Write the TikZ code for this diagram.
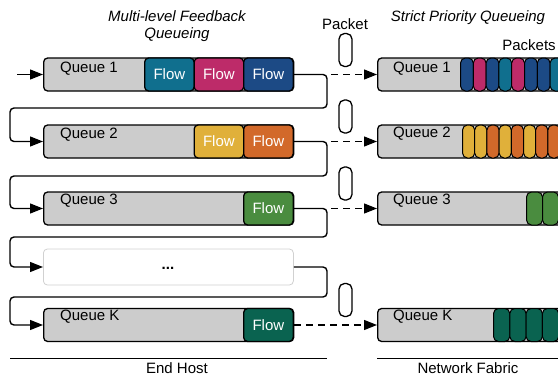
\documentclass[tikz,border=0pt]{standalone}
\usepackage{fontspec}
\setmainfont{Liberation Sans}
\usetikzlibrary{arrows.meta,calc}
\definecolor{cteal}{HTML}{106F8E}
\definecolor{cmag}{HTML}{BD2B69}
\definecolor{cnavy}{HTML}{1C4A85}
\definecolor{cyel}{HTML}{E0B03A}
\definecolor{corg}{HTML}{D2692A}
\definecolor{cgrn}{HTML}{4A8C3F}
\definecolor{cdgrn}{HTML}{0A6350}
\definecolor{qgray}{HTML}{CCCCCC}
\newcommand{\fs}{\fontsize{15}{17}\selectfont}
\begin{document}
\begin{tikzpicture}[x=1pt,y=-1pt,
  qbox/.style={draw=black, line width=1.3pt, fill=qgray, rounded corners=4pt, minimum height=33pt, inner sep=0pt, anchor=west},
  flowbox/.style={draw=black, line width=1.3pt, rounded corners=4pt, minimum height=33pt, minimum width=49.5pt, inner sep=0pt, text=white, font=\fs, anchor=west},
  pkt/.style={draw=black, line width=1pt, rounded corners=5pt, minimum height=33pt, inner sep=0pt, anchor=west},
  pill/.style={draw=black, line width=1.3pt, rounded corners=5.5pt, minimum height=33pt, minimum width=13pt, inner sep=0pt},
  lbl/.style={font=\fs, inner sep=0pt, anchor=base west},
  ttl/.style={font=\fs\itshape, inner sep=0pt, anchor=base},
  txt/.style={font=\fs, inner sep=0pt, anchor=base},
  tipA/.tip={Triangle[length=13pt,width=10pt]},
  fb/.style={draw=black, line width=1.4pt, rounded corners=4pt, -tipA},
  da/.style={draw=black, line width=1.4pt, dash pattern=on 7pt off 5pt, -tipA},
  rule/.style={draw=black, line width=1pt}
]
\useasboundingbox (0,0) rectangle (558,380);
\clip (0,0) rectangle (558,380);

% titles
\node[ttl] (t1) at (177,21) {Multi-level Feedback};
\node[ttl] (t2) at (177,38) {Queueing};
\node[ttl] (t3) at (468,21) {Strict Priority Queueing};
\node[txt] (tp) at (345,29) {Packet};
\node[txt] (tps) at (529,50) {Packets};

% left queues
\node[qbox, minimum width=250pt] (q1) at (43,74.5) {};
\node[flowbox, fill=cteal] (f11) at (144,74.5) {Flow};
\node[flowbox, fill=cmag] (f12) at (193.5,74.5) {Flow};
\node[flowbox, fill=cnavy] (f13) at (243,74.5) {Flow};
\node[lbl] (ql1) at (60,72) {Queue 1};

\node[qbox, minimum width=250pt] (q2) at (43,141.5) {};
\node[flowbox, fill=cyel] (f21) at (193.5,141.5) {Flow};
\node[flowbox, fill=corg] (f22) at (243,141.5) {Flow};
\node[lbl] (ql2) at (60,138) {Queue 2};

\node[qbox, minimum width=250pt] (q3) at (43,208.5) {};
\node[flowbox, fill=cgrn] (f31) at (243,208.5) {Flow};
\node[lbl] (ql3) at (60,204) {Queue 3};

\node[draw=black!18, line width=0.8pt, fill=white, rounded corners=4pt, minimum width=250pt, minimum height=36pt, anchor=west, inner sep=0pt] (qd) at (43,267) {};
\node[font=\fs\bfseries, inner sep=0pt] (dots) at (168,268) {...};

\node[qbox, minimum width=250pt] (qk) at (43,325) {};
\node[flowbox, fill=cdgrn] (fk1) at (243,325) {Flow};
\node[lbl] (qlk) at (60,320.5) {Queue K};

% entry arrow
\coordinate (in) at (17,74.5);
\draw[fb] (in) -- (q1.west);

% feedback loops
\coordinate (r1) at (327,108); \coordinate (l1) at (10,108);
\draw[fb] (f13.east) -| (r1) -- (l1) |- (q2.west);
\coordinate (r2) at (327,176); \coordinate (l2) at (10,176);
\draw[fb] (f22.east) -| (r2) -- (l2) |- (q3.west);
\coordinate (r3) at (327,237); \coordinate (l3) at (10,237);
\draw[fb] (f31.east) -| (r3) -- (l3) |- (qd.west);
\coordinate (r4) at (327,297); \coordinate (l4) at (10,297);
\draw[fb] (qd.east) -| (r4) -- (l4) |- (qk.west);

% right queues
\node[qbox, minimum width=220pt] (rq1) at (377,74.5) {};
\node[lbl] (rl1) at (393,72) {Queue 1};
\foreach \c [count=\i from 0] in {cnavy,cmag,cnavy,cteal,cmag,cnavy,cnavy,cteal}
  \node[pkt, fill=\c, minimum width=12.8pt] (p1\i) at (460+12.8*\i,74.5) {};

\node[qbox, minimum width=220pt] (rq2) at (377,141.5) {};
\node[lbl] (rl2) at (393,137.5) {Queue 2};
\foreach \c [count=\i from 0] in {cyel,cyel,corg,cyel,corg,cyel,corg,corg}
  \node[pkt, fill=\c, minimum width=12.2pt] (p2\i) at (462+12.2*\i,141.5) {};

\node[qbox, minimum width=220pt] (rq3) at (377,208.5) {};
\node[lbl] (rl3) at (393,204) {Queue 3};
\foreach \i in {0,1}
  \node[pkt, fill=cgrn, minimum width=16pt] (p3\i) at (526+16*\i,208.5) {};

\node[qbox, minimum width=220pt] (rqk) at (377,325) {};
\node[lbl] (rlk) at (393,320.5) {Queue K};
\foreach \i in {0,...,3}
  \node[pkt, fill=cdgrn, minimum width=16.3pt] (pk\i) at (493+16.3*\i,325) {};

% packets in transit
\node[pill] (pp1) at (345.5,50) {};
\node[pill] (pp2) at (345.5,116.5) {};
\node[pill] (pp3) at (345.5,183.5) {};
\node[pill] (pp4) at (345.5,300) {};

% dashed arrows
\coordinate (d1) at (331,74.5);
\coordinate (d2) at (331,141.5);
\coordinate (d3) at (331,208.5);
\draw[da] (d1) -- (rq1.west);
\draw[da] (d2) -- (rq2.west);
\draw[da] (d3) -- (rq3.west);
\draw[da] (fk1.east) -- (rqk.west);

% bottom rules
\coordinate (ea) at (10,358); \coordinate (eb) at (327,358);
\coordinate (na) at (377,358); \coordinate (nb) at (558,358);
\draw[rule] (ea) -- (eb);
\draw[rule] (na) -- (nb);
\node[txt] (eh) at (177,373) {End Host};
\node[txt] (nf) at (468,373) {Network Fabric};
\end{tikzpicture}
\end{document}
